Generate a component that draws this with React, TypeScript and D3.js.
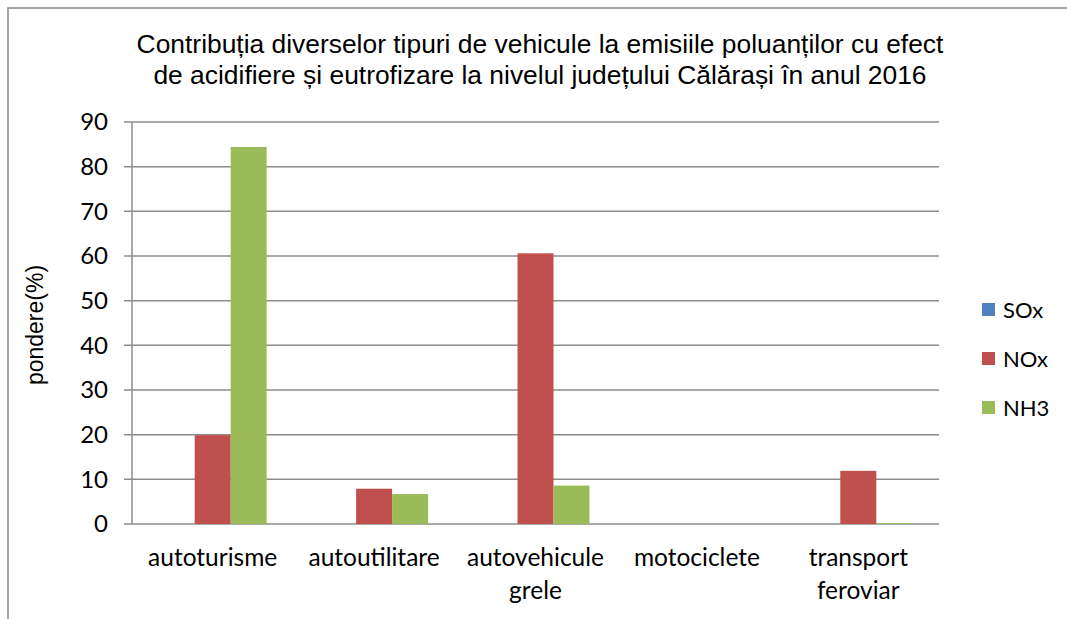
import React from "react";
import * as d3 from "d3";

const categories: string[][] = [
  ["autoturisme"],
  ["autoutilitare"],
  ["autovehicule", "grele"],
  ["motociclete"],
  ["transport", "feroviar"],
];
const seriesNames = ["SOx", "NOx", "NH3"];
const seriesColors = ["#4F81BD", "#C0504D", "#9BBB59"];
const soxValues = [0, 0, 0, 0, 0];
const noxValues = [19.9, 7.9, 60.6, 0, 11.9];
const nh3Values = [84.4, 6.7, 8.6, 0, 0.2];
const yTicks = [0, 10, 20, 30, 40, 50, 60, 70, 80, 90];
const titleLines = [
  "Contribuția diverselor tipuri de vehicule la emisiile poluanților cu efect",
  "de acidifiere și eutrofizare la nivelul județului Călărași în anul 2016",
];

export default function App() {
  const W = 1067, H = 619;
  const left = 132, right = 939, top = 122, bottom = 524;
  const values = [soxValues, noxValues, nh3Values];
  const x = d3.scaleBand<number>().domain(d3.range(categories.length)).range([left, right]).padding(0);
  const bw = x.bandwidth();
  const inner = d3.scaleBand<number>().domain([0, 1, 2]).range([bw * 0.1655, bw * (1 - 0.1655)]).padding(0);
  const y = d3.scaleLinear().domain([0, 90]).range([bottom, top]);
  const catFont = "Lato, 'Open Sans', sans-serif";
  return (
    <svg width={W} height={H} style={{ position: "absolute", left: 0, top: 0, background: "#fff" }}>
      <rect x={8} y={8} width={W + 10} height={H + 10} fill="#fff" stroke="#888" strokeWidth={1.5} />
      {titleLines.map((t, i) => (
        <text key={i} x={540} y={53 + i * 31} textAnchor="middle" fontFamily="'Liberation Sans', Arial, sans-serif" fontSize={26.4} fill="#000">{t}</text>
      ))}
      {yTicks.map((t) => (
        <g key={t}>
          <line x1={left - 8} x2={right} y1={y(t)} y2={y(t)} stroke="#8c8c8c" strokeWidth={1.5} />
          <text x={108} y={y(t)} dy="0.35em" textAnchor="end" fontFamily={catFont} fontSize={24} fill="#000">{t}</text>
        </g>
      ))}
      <line x1={left} x2={left} y1={top} y2={bottom} stroke="#8c8c8c" strokeWidth={1.5} />
      <text transform={`translate(43,${(top + bottom) / 2 + 2}) rotate(-90)`} textAnchor="middle" fontFamily="'Liberation Sans', Arial, sans-serif" fontSize={23} fill="#000">pondere(%)</text>
      {categories.map((c, ci) => (
        <g key={ci}>
          {values.map((vals, si) => (
            <rect key={si} x={x(ci)! + inner(si)!} width={inner.bandwidth()} y={y(vals[ci])} height={bottom - y(vals[ci])} fill={seriesColors[si]} />
          ))}
          {c.map((line, li) => (
            <text key={li} x={x(ci)! + bw / 2} y={566 + li * 33} textAnchor="middle" fontFamily={catFont} fontSize={24.5} fill="#000">{line}</text>
          ))}
        </g>
      ))}
      {seriesNames.map((n, i) => (
        <g key={n} transform={`translate(982,${303 + i * 49})`}>
          <rect width={13} height={13} fill={seriesColors[i]} />
          <text x={21} y={7} dy="0.35em" fontFamily={catFont} fontSize={22} fill="#000">{n}</text>
        </g>
      ))}
    </svg>
  );
}
